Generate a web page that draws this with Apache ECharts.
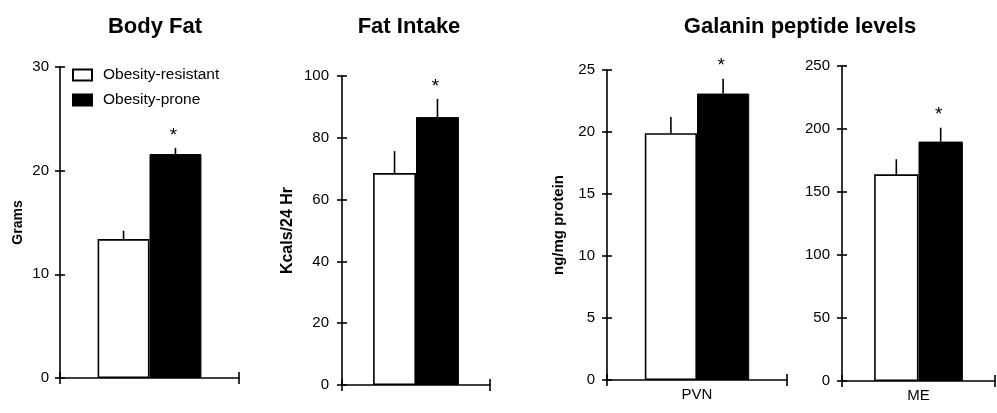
<!DOCTYPE html>
<html>
<head>
<meta charset="utf-8">
<script src="https://cdn.jsdelivr.net/npm/echarts@6/dist/echarts.min.js"></script>
<style>html,body{margin:0;padding:0;background:#fff;}#c{width:997px;height:413px;}</style>
</head>
<body>
<div id="c"></div>
<script>
// ---- data ----
var panelTitles = ['Body Fat', 'Fat Intake', 'Galanin peptide levels'];
var yNames = ['Grams', 'Kcals/24 Hr', 'ng/mg protein', ''];
var categories = [[''], [''], ['PVN'], ['ME']];
var yMax = [30, 100, 25, 250];
var yInterval = [10, 20, 5, 50];
var resistantMean = [13.4, 68.6, 19.9, 164];
var resistantErrTop = [14.2, 75.7, 21.2, 176];
var proneMean = [21.6, 86.7, 23.1, 190];
var proneErrTop = [22.2, 92.6, 24.3, 201];
var significant = [true, true, true, true];
var seriesNames = ['Obesity-resistant', 'Obesity-prone'];

// ---- layout ----
var grids = [
  {left: 60, top: 67, width: 179, height: 311},
  {left: 342, top: 76, width: 148, height: 309},
  {left: 607, top: 70, width: 180, height: 310},
  {left: 842, top: 66, width: 153, height: 315}
];
var nameGaps = [35, 46, 41, 40];
var nameSizes = [14, 16, 15, 14];
var labelMargins = [11, 13, 12, 12];
var BAR_FRAC = 0.29;
var FONT = 'Liberation Sans, Arial, sans-serif';

var xAxes = [], yAxes = [], series = [];
grids.forEach(function (g, i) {
  xAxes.push({
    gridIndex: i, type: 'category', data: categories[i], boundaryGap: true,
    axisLine: {lineStyle: {color: '#000', width: 1.6}},
    axisTick: {show: true, length: 6, lineStyle: {color: '#000', width: 1.6}},
    axisLabel: {color: '#000', fontSize: 15, fontFamily: FONT, margin: 7},
    splitLine: {show: false}
  });
  xAxes.push({
    gridIndex: i, type: 'category', data: categories[i], boundaryGap: true, position: 'bottom',
    axisLine: {show: false},
    axisTick: {show: true, inside: true, length: 6, lineStyle: {color: '#000', width: 1.6}},
    axisLabel: {show: false}, splitLine: {show: false}
  });
  yAxes.push({
    gridIndex: i, type: 'value', min: 0, max: yMax[i], interval: yInterval[i],
    name: yNames[i], nameLocation: 'middle', nameGap: nameGaps[i], nameRotate: 90,
    nameTextStyle: {color: '#000', fontSize: nameSizes[i], fontWeight: 'bold', fontFamily: FONT},
    axisLine: {show: true, lineStyle: {color: '#000', width: 1.6}},
    axisTick: {show: true, length: 5, lineStyle: {color: '#000', width: 1.6}},
    axisLabel: {color: '#000', fontSize: 15, fontFamily: FONT, margin: labelMargins[i]},
    splitLine: {show: false}
  });
  yAxes.push({
    gridIndex: i, type: 'value', min: 0, max: yMax[i], interval: yInterval[i], position: 'left',
    axisLine: {show: false},
    axisTick: {show: true, inside: true, length: 5, lineStyle: {color: '#000', width: 1.6}},
    axisLabel: {show: false}, splitLine: {show: false}
  });

  series.push({
    name: seriesNames[0], type: 'bar', xAxisIndex: 2 * i, yAxisIndex: 2 * i,
    data: [resistantMean[i]], barWidth: (BAR_FRAC * 100) + '%', barGap: '0%',
    itemStyle: {color: '#fff', borderColor: '#000', borderWidth: 1.6},
    silent: true
  });
  series.push({
    name: seriesNames[1], type: 'bar', xAxisIndex: 2 * i, yAxisIndex: 2 * i,
    data: [proneMean[i]], barWidth: (BAR_FRAC * 100) + '%', barGap: '0%',
    itemStyle: {color: '#000', borderColor: '#000', borderWidth: 1},
    silent: true
  });
  series.push({
    type: 'custom', xAxisIndex: 2 * i, yAxisIndex: 2 * i, silent: true, z: 5,
    data: [
      [0, resistantErrTop[i], resistantMean[i], -1, 0],
      [0, proneErrTop[i], proneMean[i], 1, significant[i] ? 1 : 0]
    ],
    renderItem: function (params, api) {
      var base = api.coord([api.value(0), api.value(2)]);
      var top = api.coord([api.value(0), api.value(1)]);
      var band = api.size([1, 0])[0];
      var w = band * BAR_FRAC;
      var x = base[0] + api.value(3) * w / 2;
      var children = [{
        type: 'line',
        shape: {x1: x, y1: base[1], x2: x, y2: top[1]},
        style: {stroke: '#000', lineWidth: 1.6}
      }];
      if (api.value(4)) {
        children.push({
          type: 'text',
          style: {text: '*', x: x - 2, y: top[1] - 3, fontSize: 19, fontFamily: FONT,
                  fill: '#000', align: 'center', verticalAlign: 'bottom'}
        });
      }
      return {type: 'group', children: children};
    }
  });
});

var titleStyle = {fontSize: 22, fontWeight: 'bold', color: '#000', fontFamily: FONT};
var option = {
  backgroundColor: '#fff',
  animation: false,
  title: [
    {text: panelTitles[0], left: 150, top: 11, textAlign: 'center', textStyle: titleStyle},
    {text: panelTitles[1], left: 404, top: 11, textAlign: 'center', textStyle: titleStyle},
    {text: panelTitles[2], left: 795, top: 11, textAlign: 'center', textStyle: titleStyle}
  ],
  legend: {
    data: seriesNames, orient: 'vertical', left: 72, top: 67, padding: 0,
    itemWidth: 19, itemHeight: 11, itemGap: 9, icon: 'rect',
    textStyle: {fontSize: 15.5, color: '#000', fontFamily: FONT, padding: [0, 0, 0, 6]},
    selectedMode: false
  },
  grid: grids.map(function (g) { return {left: g.left, top: g.top, width: g.width, height: g.height, containLabel: false}; }),
  xAxis: xAxes,
  yAxis: yAxes,
  series: series
};
var chart = echarts.init(document.getElementById('c'), null, {renderer: 'canvas'});
chart.setOption(option);
</script>
</body>
</html>
